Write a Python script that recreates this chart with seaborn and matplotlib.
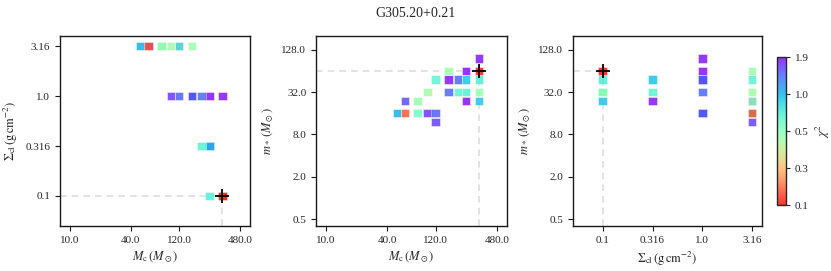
import seaborn as sns
import pandas as pd
import numpy as np
import matplotlib
matplotlib.use("Agg")
import matplotlib.pyplot as plt
import matplotlib.colors as mcolors
from matplotlib.ticker import FormatStrFormatter, NullLocator

sns.set_style("ticks")
plt.rcParams["font.family"] = ["Liberation Serif", "DejaVu Serif"]
plt.rcParams["mathtext.fontset"] = "stix"
plt.rcParams["font.size"] = 8

source = "G305.20+0.21"

# models shown: cloud mass, surface density, stellar mass, chi^2
mc = [320, 320, 320, 320, 320, 240, 240, 240, 240, 200, 200, 160,
      160, 160, 120, 120, 120, 100, 100, 80, 80, 60, 60, 50]
sigma = [0.1, 0.1, 0.1, 0.1, 1.0, 1.0, 0.316, 0.1, 0.316, 1.0, 0.316, 3.16,
         1.0, 1.0, 3.16, 1.0, 3.16, 3.16, 1.0, 3.16, 3.16, 3.16, 3.16, 3.16]
mstar = [64, 48, 32, 24, 96, 64, 48, 32, 24, 48, 32, 64,
         48, 32, 48, 16, 12, 32, 16, 24, 16, 16, 24, 16]
chi2 = [0.1, 0.74, 0.48, 0.95, 1.85, 1.9, 0.95, 0.72, 1.88, 1.45, 0.7, 0.46,
        1.87, 1.45, 0.68, 1.5, 1.65, 0.45, 1.7, 0.47, 0.6, 0.18, 1.6, 1.05]

mc_ticks = [10, 40, 120, 480]
sigma_ticks = [0.1, 0.316, 1.0, 3.16]
mstar_ticks = [0.5, 2, 8, 32, 128]
chi2_ticks = [0.1, 0.3, 0.5, 1.0, 1.9]

df = pd.DataFrame({"mc": mc, "sigma": sigma, "mstar": mstar, "chi2": chi2})
df = df.sort_values("chi2", ascending=False)
best = df.loc[df["chi2"].idxmin()]

# colour scale: tick values evenly spaced along the bar
pos = np.arange(len(chi2_ticks), dtype=float)
norm = mcolors.FuncNorm((lambda v: np.interp(v, chi2_ticks, pos),
                         lambda v: np.interp(v, pos, chi2_ticks)),
                        vmin=chi2_ticks[0], vmax=chi2_ticks[-1])
cmap = matplotlib.colormaps["rainbow_r"]

lab_mc = r"$M_\mathrm{c}\,(M_\odot)$"
lab_sig = r"$\Sigma_\mathrm{cl}\,(\mathrm{g\,cm^{-2}})$"
lab_ms = r"$m_*\,(M_\odot)$"

fig = plt.figure(figsize=(8.31, 2.71), dpi=100)
ax1 = fig.add_axes([0.0722, 0.1661, 0.2286, 0.7011])
ax2 = fig.add_axes([0.3803, 0.1661, 0.2294, 0.7011])
ax3 = fig.add_axes([0.6892, 0.1661, 0.2282, 0.7011])
cax = fig.add_axes([0.935, 0.2435, 0.0105, 0.545])

panels = [
    (ax1, "mc", "sigma", lab_mc, lab_sig),
    (ax2, "mc", "mstar", lab_mc, lab_ms),
    (ax3, "sigma", "mstar", lab_sig, lab_ms),
]
lims = {"mc": (8, 600), "sigma": (0.05, 4.0), "mstar": (0.4, 200)}
ticks = {"mc": mc_ticks, "sigma": sigma_ticks, "mstar": mstar_ticks}
fmt = {"mc": lambda v: f"{v:.1f}", "sigma": lambda v: str(v),
       "mstar": lambda v: f"{v:.1f}"}

for ax, xc, yc, xl, yl in panels:
    sns.scatterplot(data=df, x=xc, y=yc, hue="chi2", palette=cmap,
                    hue_norm=norm, marker="s", s=38, alpha=0.8,
                    edgecolor="white", linewidth=0.4, legend=False,
                    ax=ax, zorder=3)
    ax.set_xscale("log")
    ax.set_yscale("log")
    ax.set_xlim(lims[xc])
    ax.set_ylim(lims[yc])
    ax.set_xticks(ticks[xc], [fmt[xc](v) for v in ticks[xc]])
    ax.set_yticks(ticks[yc], [fmt[yc](v) for v in ticks[yc]])
    ax.xaxis.set_minor_locator(NullLocator())
    ax.yaxis.set_minor_locator(NullLocator())
    ax.set_xlabel(xl, fontsize=9)
    ax.set_ylabel(yl, fontsize=9)
    ax.tick_params(labelsize=8, length=3.5, width=0.8, color="0.1")
    for sp in ax.spines.values():
        sp.set_linewidth(1.0)
        sp.set_color("0.1")

    bx, by = best[xc], best[yc]
    ax.plot([lims[xc][0], bx], [by, by], ls=(0, (4, 3)), color="0.87",
            lw=1.2, zorder=1)
    ax.plot([bx, bx], [lims[yc][0], by], ls=(0, (4, 3)), color="0.87",
            lw=1.2, zorder=1)
    ax.plot(bx, by, marker="+", color="k", ms=10, mew=1.3, zorder=5)

sm = matplotlib.cm.ScalarMappable(norm=norm, cmap=cmap)
cb = fig.colorbar(sm, cax=cax, alpha=0.8)
cb.set_ticks(chi2_ticks)
cb.ax.yaxis.set_major_formatter(FormatStrFormatter("%.1f"))
cb.ax.yaxis.set_minor_locator(NullLocator())
cb.ax.tick_params(labelsize=8, length=3, width=0.8)
cb.set_label(r"$\chi^2$", fontsize=9)
cb.outline.set_linewidth(1.0)

fig.suptitle(source, y=0.952, va="center", fontsize=10)

fig.savefig("out.png", dpi=100)
